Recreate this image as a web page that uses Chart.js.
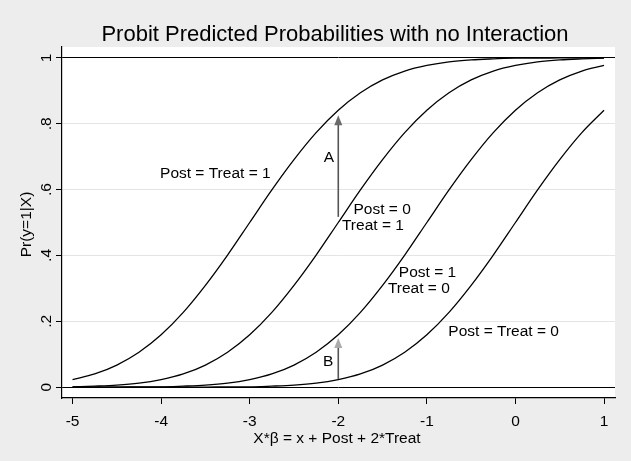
<!DOCTYPE html>
<html>
<head>
<meta charset="utf-8">
<script src="https://cdn.jsdelivr.net/npm/chart.js@4/dist/chart.umd.min.js"></script>
<style>
  html, body { margin: 0; padding: 0; background: #ededed; }
  #wrap { width: 631px; height: 461px; }
</style>
</head>
<body>
<div id="wrap"><canvas id="chart" width="631" height="461"></canvas></div>
<script>
// ─── Data ─────────────────────────────────────────────────
const xs = [-5, -4.75, -4.5, -4.25, -4, -3.75, -3.5, -3.25, -3, -2.75, -2.5, -2.25,
  -2, -1.75, -1.5, -1.25, -1, -0.75, -0.5, -0.25, 0, 0.25, 0.5, 0.75, 1];

const postTreat1 = [0.023, 0.040, 0.067, 0.106, 0.159, 0.227, 0.309, 0.401, 0.500, 0.599,
  0.691, 0.773, 0.841, 0.894, 0.933, 0.960, 0.977, 0.988, 0.994, 0.997, 0.999, 0.999, 1.000, 1.000, 1.000];
const post0Treat1 = [0.001, 0.003, 0.006, 0.012, 0.023, 0.040, 0.067, 0.106, 0.159, 0.227,
  0.309, 0.401, 0.500, 0.599, 0.691, 0.773, 0.841, 0.894, 0.933, 0.960, 0.977, 0.988, 0.994, 0.997, 0.999];
const post1Treat0 = [0.000, 0.000, 0.000, 0.001, 0.001, 0.003, 0.006, 0.012, 0.023, 0.040,
  0.067, 0.106, 0.159, 0.227, 0.309, 0.401, 0.500, 0.599, 0.691, 0.773, 0.841, 0.894, 0.933, 0.960, 0.977];
const postTreat0 = [0.000, 0.000, 0.000, 0.000, 0.000, 0.000, 0.000, 0.001, 0.001, 0.003,
  0.006, 0.012, 0.023, 0.040, 0.067, 0.106, 0.159, 0.227, 0.309, 0.401, 0.500, 0.599, 0.691, 0.773, 0.841];

const xTicks = [-5, -4, -3, -2, -1, 0, 1];
const xTickLabels = ['-5', '-4', '-3', '-2', '-1', '0', '1'];
const yTicks = [0, 0.2, 0.4, 0.6, 0.8, 1];
const yTickLabels = ['0', '.2', '.4', '.6', '.8', '1'];

// ─── Annotations (data coordinates) ───────────────────────
const notes = [
  { text: 'Post = Treat = 1', x: -3.388, y: 0.649 },
  { text: 'A', x: -2.105, y: 0.696 },
  { text: 'Post = 0', x: -1.505, y: 0.540 },
  { text: 'Treat = 1', x: -1.609, y: 0.489 },
  { text: 'Post = 1', x: -0.993, y: 0.348 },
  { text: 'Treat = 0', x: -1.090, y: 0.298 },
  { text: 'Post = Treat = 0', x: -0.133, y: 0.168 },
  { text: 'B', x: -2.113, y: 0.078 }
];
const arrows = [
  { x: -2, from: 0.517, to: 0.826, head: '#6a6a6a' },
  { x: -2, from: 0.025, to: 0.149, head: '#ababab' }
];

const FONT = '"Liberation Sans", Arial, Helvetica, sans-serif';

function pts(ys) { return xs.map((x, i) => ({ x, y: ys[i] })); }

function curve(label, ys) {
  return {
    label, data: pts(ys),
    borderColor: '#000', borderWidth: 1.3,
    pointRadius: 0, fill: false,
    cubicInterpolationMode: 'monotone'
  };
}

// ─── Extras: plot background, title, labels, arrows ───────
const extras = {
  id: 'extras',
  beforeDraw(chart) {
    const { ctx, chartArea: a } = chart;
    ctx.save();
    ctx.fillStyle = '#fff';
    ctx.fillRect(a.left, a.top, a.right - a.left, a.bottom - a.top);
    ctx.restore();
  },
  afterDatasetsDraw(chart) {
    const { ctx } = chart;
    const sx = chart.scales.x, sy = chart.scales.y;
    ctx.save();
    // arrows
    arrows.forEach(ar => {
      const px = sx.getPixelForValue(ar.x);
      const y0 = sy.getPixelForValue(ar.from);
      const y1 = sy.getPixelForValue(ar.to);
      ctx.strokeStyle = '#555';
      ctx.lineWidth = 1.6;
      ctx.beginPath();
      ctx.moveTo(px, y0);
      ctx.lineTo(px, y1 + 8);
      ctx.stroke();
      ctx.fillStyle = ar.head;
      ctx.beginPath();
      ctx.moveTo(px, y1);
      ctx.lineTo(px - 4, y1 + 10);
      ctx.lineTo(px + 4, y1 + 10);
      ctx.closePath();
      ctx.fill();
    });
    // text labels
    ctx.fillStyle = '#000';
    ctx.font = '15.5px ' + FONT;
    ctx.textAlign = 'center';
    ctx.textBaseline = 'middle';
    notes.forEach(n => {
      ctx.fillText(n.text, sx.getPixelForValue(n.x), sy.getPixelForValue(n.y));
    });
    ctx.restore();
  },
  afterDraw(chart) {
    const { ctx } = chart;
    const sy = chart.scales.y;
    ctx.save();
    ctx.fillStyle = '#000';
    // title
    ctx.font = '22px ' + FONT;
    ctx.textAlign = 'center';
    ctx.textBaseline = 'alphabetic';
    ctx.fillText('Probit Predicted Probabilities with no Interaction', 335, 41);
    // x title
    ctx.font = '15.5px ' + FONT;
    ctx.textBaseline = 'middle';
    ctx.fillText('X*\u03b2 = x + Post + 2*Treat', 337, 439);
    // y tick labels (rotated)
    yTicks.forEach((v, i) => {
      ctx.save();
      ctx.translate(47, sy.getPixelForValue(v));
      ctx.rotate(-Math.PI / 2);
      ctx.fillText(yTickLabels[i], 0, 0);
      ctx.restore();
    });
    // y title
    ctx.save();
    ctx.translate(27, 224.5);
    ctx.rotate(-Math.PI / 2);
    ctx.fillText('Pr(y=1|X)', 0, 0);
    ctx.restore();
    ctx.restore();
  }
};

new Chart(document.getElementById('chart'), {
  type: 'line',
  data: {
    datasets: [
      curve('Post = Treat = 1', postTreat1),
      curve('Post = 0, Treat = 1', post0Treat1),
      curve('Post = 1, Treat = 0', post1Treat0),
      curve('Post = Treat = 0', postTreat0)
    ]
  },
  options: {
    responsive: false,
    animation: false,
    devicePixelRatio: 1,
    layout: { padding: { top: 47, right: 16, left: 0, bottom: 0 } },
    plugins: { legend: { display: false }, tooltip: { enabled: false }, title: { display: false } },
    scales: {
      x: {
        type: 'linear',
        min: -5.119, max: 1.124,
        afterFit: s => { s.height = 63; },
        afterBuildTicks: s => { s.ticks = xTicks.map(v => ({ value: v })); },
        ticks: {
          color: '#000', padding: 8,
          font: { family: FONT, size: 15.5 },
          maxRotation: 0, minRotation: 0,
          callback: v => xTickLabels[xTicks.indexOf(v)]
        },
        grid: { drawOnChartArea: false, drawTicks: true, tickLength: 6, tickColor: '#000', lineWidth: 1 },
        border: { display: true, color: '#000', width: 1.2 }
      },
      y: {
        type: 'linear',
        min: -0.033, max: 1.033,
        afterFit: s => { s.width = 62; },
        afterBuildTicks: s => { s.ticks = yTicks.map(v => ({ value: v })); },
        ticks: { color: 'rgba(0,0,0,0)', font: { family: FONT, size: 15.5 } },
        grid: {
          drawTicks: true, tickLength: 6, tickColor: '#000', lineWidth: 1,
          color: c => (c.tick && (c.tick.value === 0 || c.tick.value === 1)) ? '#000' : '#e4e4e4'
        },
        border: { display: true, color: '#000', width: 1.2 }
      }
    }
  },
  plugins: [extras]
});
</script>
</body>
</html>
